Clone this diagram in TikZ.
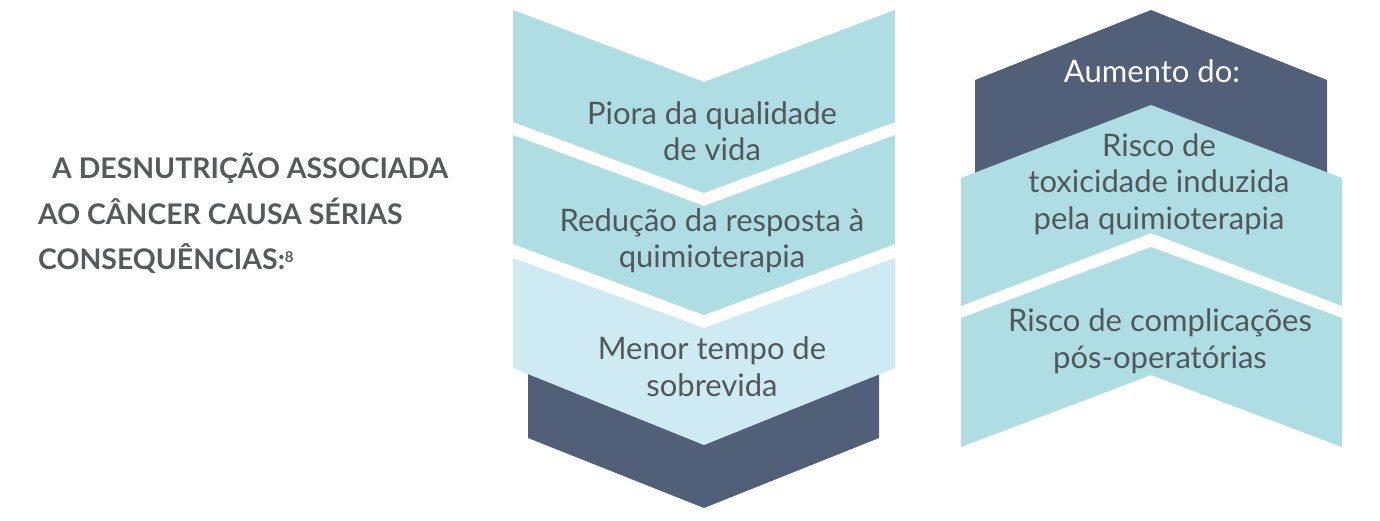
\documentclass[tikz,border=0pt]{standalone}
\usepackage{fontspec}
\setmainfont{Lato}
\definecolor{tealA}{HTML}{AEDDE3}
\definecolor{tealB}{HTML}{CEEAF2}
\definecolor{navy}{HTML}{525F78}
\definecolor{txt}{HTML}{52575B}
\definecolor{head}{HTML}{58595B}
\begin{document}
\begin{tikzpicture}[x=1pt,y=-1pt,
  lbl/.style={align=center,text=txt,font=\fontsize{31}{36.5}\selectfont,inner sep=0pt},
  hd/.style={align=left,text=head,font=\bfseries\fontsize{28.4}{46}\selectfont,inner sep=0pt,anchor=base west}]
\useasboundingbox (0,0) rectangle (1380,520);
% left column (down chevrons)
\fill[navy] (528,345) -- (879,345) -- (879,438) -- (704,508) -- (528,438) -- cycle;
\fill[tealB] (513,258) -- (704,328) -- (895,258) -- (895,368) -- (704,445) -- (513,368) -- cycle;
\fill[tealA] (513,135) -- (704,206) -- (895,135) -- (895,244) -- (704,315) -- (513,244) -- cycle;
\fill[tealA] (513,10) -- (704,82) -- (895,10) -- (895,122) -- (704,193) -- (513,122) -- cycle;
% right column (up chevrons)
\fill[navy] (975,80) -- (1151,10) -- (1327,80) -- (1327,250) -- (1151,180) -- (975,250) -- cycle;
\fill[tealA] (961,178) -- (1151,105) -- (1342,178) -- (1342,306) -- (1151,233) -- (961,306) -- cycle;
\fill[tealA] (961,318) -- (1151,247) -- (1342,318) -- (1342,447) -- (1151,375) -- (961,447) -- cycle;
% texts
\node[lbl] (t1) at (712,131) {Piora da qualidade\\de vida};
\node[lbl] (t2) at (712,240.5) {Redução da resposta à\\quimioterapia};
\node[lbl] (t3) at (712,366.5) {Menor tempo de\\sobrevida};
\node[lbl,text=white] (t4) at (1152,71.5) {Aumento do:};
\node[lbl] (t5) at (1159,184) {Risco de\\toxicidade induzida\\pela quimioterapia};
\node[lbl] (t6) at (1160,341) {Risco de complicações\\pós-operatórias};
\node[hd] (h1) at (38,178) {\hspace{14pt}A DESNUTRIÇÃO ASSOCIADA};
\node[hd] (h2) at (38,224) {AO CÂNCER CAUSA SÉRIAS};
\node[hd] (h3) at (38,269) {CONSEQUÊNCIAS:\raisebox{7pt}{\fontsize{15}{15}\selectfont 8}};
\end{tikzpicture}
\end{document}
